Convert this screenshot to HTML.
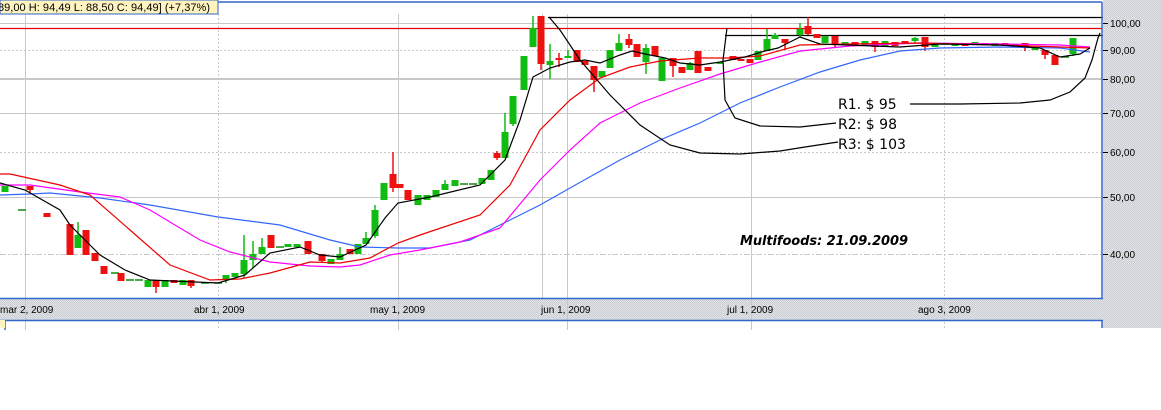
<!DOCTYPE html>
<html><head><meta charset="utf-8"><style>
html,body{margin:0;padding:0;background:#fff;}
svg{display:block;font-family:"Liberation Sans",sans-serif;}
</style></head><body>
<svg id="s" width="1161" height="410" viewBox="0 0 1161 410" xmlns="http://www.w3.org/2000/svg">
<defs>
<pattern id="dots" width="2" height="2" patternUnits="userSpaceOnUse"><rect width="2" height="2" fill="#e4e4e4"/><rect width="1" height="1" fill="#c8ccd4"/><rect x="1" y="1" width="1" height="1" fill="#c8ccd4"/></pattern>
</defs>
<rect x="0" y="0" width="1161" height="410" fill="#fff"/>
<rect x="1103" y="0" width="58" height="328" fill="url(#dots)"/>
<rect x="0" y="299" width="1103" height="21" fill="url(#dots)"/>
<g stroke="#c8c8c8" stroke-width="1">
<line x1="0" y1="23.5" x2="1102" y2="23.5"/>
<line x1="0" y1="50.5" x2="1102" y2="50.5" stroke-dasharray="2,2"/>
<line x1="0" y1="79" x2="1102" y2="79" stroke-width="2"/>
<line x1="0" y1="113.5" x2="1102" y2="113.5"/>
<line x1="0" y1="152.5" x2="1102" y2="152.5" stroke-dasharray="2,2"/>
<line x1="0" y1="197.5" x2="1102" y2="197.5"/>
<line x1="0" y1="254.5" x2="1102" y2="254.5" stroke-dasharray="6,2,2,2"/>
<line x1="25.5" y1="14" x2="25.5" y2="330"/>
<line x1="218.5" y1="14" x2="218.5" y2="330" stroke-dasharray="2,2"/>
<line x1="398.5" y1="14" x2="398.5" y2="330"/>
<line x1="542.5" y1="14" x2="542.5" y2="298"/>
<line x1="567.5" y1="14" x2="567.5" y2="330"/>
<line x1="751.5" y1="14" x2="751.5" y2="330"/>
<line x1="944.5" y1="14" x2="944.5" y2="330" stroke-dasharray="2,2"/>
</g>
<line x1="0" y1="28.5" x2="1102" y2="28.5" stroke="#e00000" stroke-width="1.3"/>
<line x1="548" y1="17.5" x2="1103" y2="17.5" stroke="#000" stroke-width="1.3"/>
<line x1="725" y1="35.5" x2="1103" y2="35.5" stroke="#000" stroke-width="1.3"/>
<g stroke="#3366cc" stroke-width="1.5" fill="none">
<line x1="218" y1="2" x2="1102" y2="2"/>
<line x1="1102" y1="2" x2="1102" y2="299"/>
<line x1="0" y1="298.5" x2="1103" y2="298.5"/>
<line x1="0" y1="320.5" x2="1103" y2="320.5"/>
<line x1="1102" y1="320" x2="1102" y2="328"/>
<line x1="5" y1="320" x2="5" y2="330"/>
</g>
<rect x="0" y="320" width="5" height="8" fill="#fff3c0"/>
<g id="cand"></g>
<g fill="none" stroke-width="1.2">
<polyline stroke="#3366ff" points="0,195 30,194 50,193 100,198 150,205 218,217 280,225 330,240 360,247 398,248 430,248 470,240 500,225 540,205 570,188 620,160 660,140 700,123 740,103 780,87 820,72 860,60 900,51 940,48 1000,47 1060,48 1090,52"/>
<polyline stroke="#ff00ff" points="0,185 30,185 80,192 120,197 150,210 200,240 230,252 270,262 310,266 340,267 360,265 390,255 420,250 460,242 500,228 540,180 570,150 600,123 640,103 680,88 720,74 760,62 800,51 850,46 920,43 1000,44 1060,45 1090,47"/>
<polyline stroke="#ee0000" points="0,174 10,174 60,185 90,195 130,230 170,265 210,280 240,279 270,273 310,262 340,263 370,258 398,243 420,235 480,215 510,185 540,130 570,100 600,78 630,67 660,61 700,58 730,58 760,56 800,45 850,44 920,43 1000,45 1060,47 1090,48"/>
<polyline stroke="#000" points="0,183 25,190 60,210 70,225 100,255 125,270 150,280 218,283 245,275 270,253 300,247 320,255 340,257 366,245 385,218 398,203 430,197 480,185 505,160 520,120 533,77 550,68 570,62 585,60 600,63 620,55 632,51 645,54 665,58 680,63 700,65 720,62 745,57 765,51 778,48 800,37 820,44 900,47 940,44 1000,45 1040,48 1060,57 1080,54 1090,48"/>
<path stroke="#000" d="M549,17 L560,30 580,60 610,95 640,125 670,145 700,153 740,154 780,151 805,147 838,142"/>
<path stroke="#000" d="M727,28 L723,60 725,100 735,118 760,126 800,127 836,123"/>
<path stroke="#000" d="M910,104 L960,104 1020,103 1050,100 1070,92 1085,78 1092,60 1098,38 1100,33"/>
</g>
<g font-size="14" fill="#000" font-family="'DejaVu Sans',sans-serif">
<text x="838" y="109">R1. $   95</text>
<text x="838" y="129">R2: $   98</text>
<text x="838" y="149">R3: $ 103</text>
<text x="740" y="245" font-size="13" font-weight="bold" font-style="italic" textLength="168">Multifoods: 21.09.2009</text>
</g>
<rect x="0" y="0" width="218" height="14" fill="#fff3c0" stroke="#3366cc" stroke-width="1"/>
<text x="-2" y="11" font-size="11" textLength="212">89,00  H: 94,49  L: 88,50  C: 94,49] (+7,37%)</text>
<g font-size="10" fill="#000">
<text x="1110" y="27">100,00</text>
<text x="1110" y="54">90,00</text>
<text x="1110" y="83">80,00</text>
<text x="1110" y="117">70,00</text>
<text x="1110" y="156">60,00</text>
<text x="1110" y="201">50,00</text>
<text x="1110" y="258">40,00</text>
<text x="0" y="313">mar 2, 2009</text>
<text x="194" y="313">abr 1, 2009</text>
<text x="370" y="313">may 1, 2009</text>
<text x="541" y="313">jun 1, 2009</text>
<text x="727" y="313">jul 1, 2009</text>
<text x="918" y="313">ago 3, 2009</text>
</g>
<g stroke="#000"><line x1="1103" y1="23.5" x2="1108" y2="23.5"/><line x1="1103" y1="50.5" x2="1108" y2="50.5"/><line x1="1103" y1="79.5" x2="1108" y2="79.5"/><line x1="1103" y1="113.5" x2="1108" y2="113.5"/><line x1="1103" y1="152.5" x2="1108" y2="152.5"/><line x1="1103" y1="197.5" x2="1108" y2="197.5"/><line x1="1103" y1="254.5" x2="1108" y2="254.5"/></g>
</svg>
<script>
var d=[[5,'g',186,192,186,192],[22,'d',210],[30,'r',186,190,186,193],[47,'r',213,217],[70,'r',224,255],[78,'g',235,248,222,248],[86,'r',230,255],[95,'r',253,261],[104,'r',266,274],[115,'d',273],[121,'r',273,281],[130,'d',280],[139,'d',280],[148,'g',280,287],[156,'r',280,287,280,293],[165,'g',280,287],[174,'r',280,283],[183,'g',280,285],[191,'r',280,286,280,288],[205,'d',283],[218,'d',283],[226,'g',275,279,275,283],[235,'g',273,277],[244,'g',260,274,235,278],[253,'g',254,260,241,268],[262,'g',247,254,238,254],[271,'r',235,248],[280,'d',247],[288,'g',244,247],[297,'g',244,247],[308,'r',241,254],[322,'r',254,261,254,263],[331,'g',259,264],[340,'g',254,260,247,260],[350,'r',249,254],[358,'g',244,254],[366,'g',238,244,232,244],[375,'g',210,236,205,238],[384,'g',183,200],[393,'r',174,188,152,192],[400,'r',184,188],[408,'r',190,200],[418,'g',195,205],[427,'g',195,200],[436,'g',190,197],[445,'g',184,190,180,190],[455,'g',180,186],[464,'d',184],[473,'d',184],[482,'g',178,184],[491,'g',170,180],[497,'r',153,158,151,160],[505,'g',132,158,113,158],[513,'g',96,124,96,126],[524,'g',56,90],[533,'g',28,47,16,47],[541,'r',16,64,16,70],[550,'g',61,65,44,79],[559,'r',58,60,53,67],[568,'g',56,58,50,58],[577,'r',50,62],[585,'r',61,65],[594,'r',66,80,66,92],[602,'g',71,77],[610,'g',50,68],[619,'g',43,51,34,51],[629,'r',39,45,34,48],[637,'r',44,57],[646,'g',48,62,44,74],[655,'r',46,56],[662,'g',58,81],[673,'r',58,66,58,77],[682,'r',67,73],[690,'g',63,70,62,70],[698,'r',51,73],[708,'r',67,71],[720,'g',62,64],[733,'r',56,60],[741,'r',59,61],[750,'r',59,63],[758,'g',51,60],[767,'g',39,51,29,51],[775,'g',35,39,33,39],[785,'r',39,43,39,50],[800,'g',29,35,23,37],[808,'r',26,34,17,35],[817,'r',34,38],[825,'g',36,43],[835,'r',36,44,36,47],[845,'g',42,45],[855,'r',42,46],[865,'g',41,45],[875,'r',41,47,41,52],[885,'g',41,47],[895,'r',42,46],[905,'r',41,44],[915,'g',38,41,37,43],[925,'r',37,47,37,51],[935,'g',43,47],[945,'d',44],[955,'g',44,46],[965,'r',43,46],[975,'g',42,45],[985,'r',43,45],[995,'g',43,46],[1005,'r',43,46],[1015,'g',44,46],[1025,'r',43,46,43,51],[1035,'g',47,50],[1045,'r',50,55,50,59],[1055,'r',55,65],[1065,'d',57],[1073,'g',38,54,38,56]];
var g=document.getElementById('cand'),h='';
d.forEach(function(c){var x=c[0],col=c[1];
if(col=='d'){h+='<line x1="'+(x-4)+'" x2="'+(x+4)+'" y1="'+c[2]+'" y2="'+c[2]+'" stroke="#118811" stroke-width="1.5"/>';return;}
var f=col=='g'?'#11bb11':'#ee1111',t=c[2],b=c[3],hi=c[4]||t,lo=c[5]||b;
h+='<line x1="'+x+'" x2="'+x+'" y1="'+hi+'" y2="'+lo+'" stroke="'+f+'" stroke-width="1.5"/>';
h+='<rect x="'+(x-3.5)+'" y="'+t+'" width="7" height="'+Math.max(2,b-t)+'" fill="'+f+'"/>';});
g.innerHTML=h;
</script>
</body></html>
